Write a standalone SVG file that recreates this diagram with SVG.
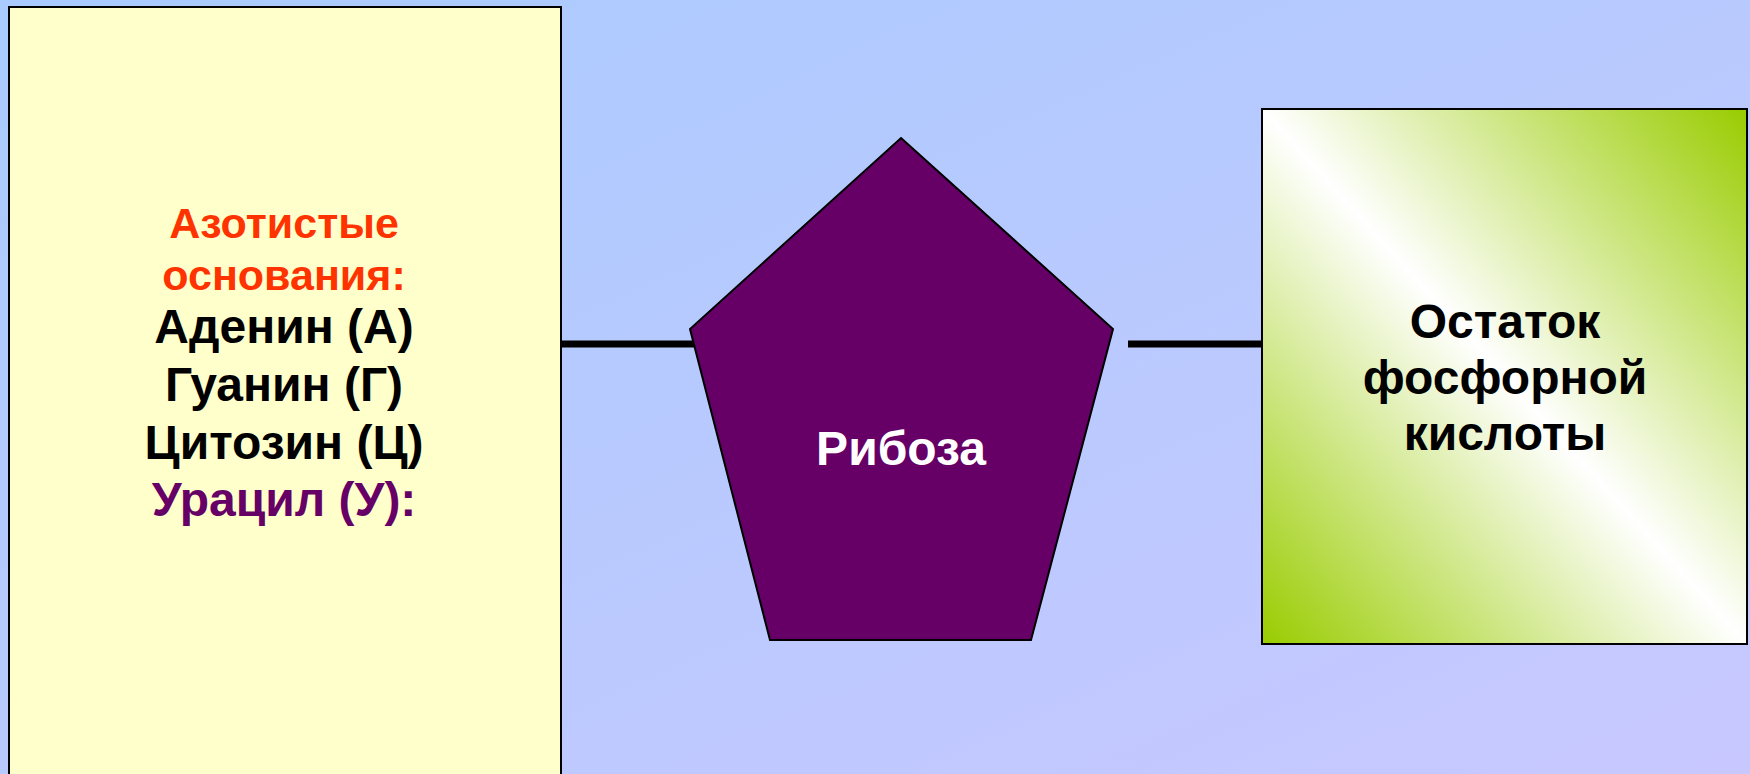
<svg xmlns="http://www.w3.org/2000/svg" width="1750" height="774" viewBox="0 0 1750 774">
<defs>
<linearGradient id="bg" x1="0" y1="0" x2="1" y2="1">
<stop offset="0" stop-color="#a9cbff"/>
<stop offset="1" stop-color="#c8c8ff"/>
</linearGradient>
<linearGradient id="green" x1="1" y1="0" x2="0" y2="1">
<stop offset="0" stop-color="#99cc00"/>
<stop offset="0.5" stop-color="#ffffff"/>
<stop offset="1" stop-color="#99cc00"/>
</linearGradient>
<style>
.t{font-family:"Liberation Sans",Arial,sans-serif;font-weight:bold;font-size:48px;text-anchor:middle}
.s{font-size:43px}
.box{stroke:#000;stroke-width:2}
</style>
</defs>
<rect width="1750" height="774" fill="url(#bg)"/>
<g id="connectors" stroke="#000" stroke-width="7">
<line x1="561" y1="344" x2="694" y2="344"/>
<line x1="1128" y1="344" x2="1262" y2="344"/>
</g>
<g id="bases">
<rect class="box" x="9" y="7" width="552" height="790" fill="#ffffcc"/>
<text class="t s" x="284" fill="#ff3300"><tspan x="284" y="238">Азотистые</tspan><tspan x="284" y="290">основания:</tspan></text>
<text class="t" x="284" fill="#000"><tspan x="284" y="343">Аденин (А)</tspan><tspan x="284" y="401">Гуанин (Г)</tspan><tspan x="284" y="459">Цитозин (Ц)</tspan></text>
<text class="t" x="284" y="516" fill="#660066">Урацил (У):</text>
</g>
<g id="ribose">
<polygon class="box" points="901,138 1113,329 1031,640 770,640 690,329" fill="#660066"/>
<text class="t" x="901" y="465" fill="#fff">Рибоза</text>
</g>
<g id="phosphate">
<rect class="box" x="1262" y="109" width="485" height="535" fill="url(#green)"/>
<text class="t" fill="#000"><tspan x="1505" y="338">Остаток</tspan><tspan x="1505" y="394">фосфорной</tspan><tspan x="1505" y="450">кислоты</tspan></text>
</g>
</svg>
